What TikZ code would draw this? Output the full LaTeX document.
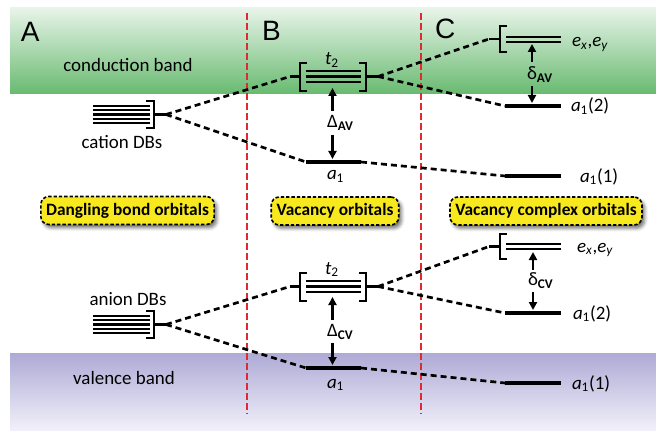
\documentclass[tikz,border=0pt]{standalone}
\usepackage{fontspec}
\setmainfont{Carlito}
\newfontfamily\letterfont{Liberation Sans}
\usetikzlibrary{arrows.meta,shadows.blur}

\definecolor{cbgreen}{RGB}{104,186,112}
\definecolor{cbgreentop}{RGB}{232,244,233}
\definecolor{vbpurple}{RGB}{174,170,214}
\definecolor{vbpurplebot}{RGB}{242,241,250}
\definecolor{divred}{RGB}{228,40,48}
\definecolor{tagyellow}{RGB}{248,232,30}

\newcommand\orb[2]{\textit{#1}\textsubscript{#2}}

\begin{document}
\begin{tikzpicture}[x=0.75pt,y=-0.75pt,
  every node/.style={inner sep=0pt, outer sep=0pt},
  txt/.style={font=\fontsize{14.2}{16}\selectfont},
  lab/.style={font=\fontsize{14.2}{16}\selectfont, anchor=base west},
  panel/.style={font=\letterfont\fontsize{21}{24}\selectfont, anchor=base west},
  dbline/.style={line width=1.8pt},
  tline/.style={line width=1.9pt},
  level/.style={line width=2.8pt},
  brk/.style={line width=1.8pt},
  conn/.style={line width=2pt, dash pattern=on 4.5pt off 3pt},
  divider/.style={divred, line width=1.3pt, dash pattern=on 5pt off 2.5pt},
  arr/.style={line width=1.7pt, -{Triangle[length=6pt,width=6pt]}},
  tag/.style={draw=black, fill=tagyellow, line width=1.2pt, dash pattern=on 2.5pt off 1.5pt,
    rounded corners=6pt, inner xsep=4pt, inner ysep=0pt, minimum height=28*0.75pt,
    font=\bfseries\fontsize{13}{15}\selectfont,
    blur shadow={shadow xshift=2pt, shadow yshift=-2.5pt, shadow blur radius=2.5pt, shadow opacity=55}}
]
\useasboundingbox (0,0) rectangle (656,431);

% energy bands
\shade[top color=cbgreentop, bottom color=cbgreen] (10,8) rectangle (656,94);
\shade[top color=vbpurple, bottom color=vbpurplebot] (10,353) rectangle (656,431);

% column dividers
\draw[divider] (247,13) -- (247,414);
\draw[divider] (421,13) -- (421,414);

% panel letters and band names
\node[panel] (pA) at (21,42) {A};
\node[panel] (pB) at (262,41) {B};
\node[panel] (pC) at (435,39) {C};
\node[txt, anchor=base] (cb) at (128,72) {conduction band};
\node[txt, anchor=base] (vb) at (124,384) {valence band};

% ---------- upper half: cation dangling bonds ----------
\foreach \k in {0,...,4} \draw[dbline] (93,{106+4.25*\k}) -- (150,{106+4.25*\k});
\draw[brk] (146,101) -- (154,101) -- (154,128) -- (146,128);
\draw[brk] (154,114.5) -- (166,114.5);
\coordinate (catR) at (166,114.5);
\node[txt, anchor=base] (catlab) at (122,149) {cation DBs};

% vacancy t2 (upper)
\foreach \yy in {71,76.5,82} \draw[tline] (306,\yy) -- (361,\yy);
\draw[brk] (307,63) -- (300,63) -- (300,91) -- (307,91);
\draw[brk] (300,76.5) -- (290,76.5);
\draw[brk] (359,63) -- (366,63) -- (366,91) -- (359,91);
\draw[brk] (366,76.5) -- (378,76.5);
\coordinate (tAL) at (290,76.5);
\coordinate (tAR) at (378,76.5);
\coordinate (tAbot) at (332.5,88);
\node[lab] (t2A) at (325,65) {\orb{t}{2}};

% vacancy a1 (upper)
\draw[level] (306,162) -- (361,162);
\coordinate (aAL) at (306,162);
\coordinate (aAR) at (361,162);
\coordinate (aAtop) at (332.5,159);
\node[lab] (a1A) at (327,180) {\orb{a}{1}};

% splitting Delta_AV
\node[txt] (DAV) at (332.5,123) {Δ\rlap{\textsubscript{\bfseries AV}}};
\coordinate (DAVu) at (332.5,111);
\coordinate (DAVd) at (332.5,135);
\draw[arr] (DAVu) -- (tAbot);
\draw[arr] (DAVd) -- (aAtop);

% vacancy complex (upper)
\draw[tline] (506,37) -- (561,37);
\draw[tline] (506,42) -- (561,42);
\draw[brk] (507,26) -- (500,26) -- (500,52) -- (507,52);
\draw[brk] (500,39) -- (489,39);
\coordinate (eAL) at (489,39);
\coordinate (eAbot) at (532,44);
\node[lab] (eA) at (572,47) {\orb{e}{\textit{x}},\orb{e}{\textit{y}}};

\draw[level] (505,106) -- (561,106);
\coordinate (c2AL) at (505,106);
\coordinate (c2Atop) at (532,103);
\node[lab] (c2A) at (571,112) {\orb{a}{1}(2)};

\draw[level] (505,176) -- (561,176);
\coordinate (c1AL) at (505,176);
\node[lab] (c1A) at (580,182) {\orb{a}{1}(1)};

\node[txt] (sAV) at (532,75) {δ\rlap{\textsubscript{\bfseries AV}}};
\coordinate (sAVu) at (532,62);
\coordinate (sAVd) at (532,86);
\draw[arr] (sAVu) -- (eAbot);
\draw[arr] (sAVd) -- (c2Atop);

% correlation lines (upper)
\draw[conn] (catR) -- (tAL);
\draw[conn] (catR) -- (aAL);
\draw[conn] (tAR) -- (eAL);
\draw[conn] (tAR) -- (c2AL);
\draw[conn] (aAR) -- (c1AL);

% ---------- column captions ----------
\node[tag] (capA) at (127.5,210.5) {Dangling bond orbitals};
\node[tag] (capB) at (335,211) {Vacancy orbitals};
\node[tag] (capC) at (546,211) {Vacancy complex orbitals};

% ---------- lower half: anion dangling bonds ----------
\foreach \k in {0,...,4} \draw[dbline] (93,{316+4.25*\k}) -- (150,{316+4.25*\k});
\draw[brk] (146,311) -- (154,311) -- (154,338) -- (146,338);
\draw[brk] (154,324.5) -- (166,324.5);
\coordinate (anR) at (166,324.5);
\node[txt, anchor=base] (anlab) at (128,305) {anion DBs};

% vacancy t2 (lower)
\foreach \yy in {281,286.5,292} \draw[tline] (306,\yy) -- (361,\yy);
\draw[brk] (307,273) -- (300,273) -- (300,301) -- (307,301);
\draw[brk] (300,286.5) -- (290,286.5);
\draw[brk] (359,273) -- (366,273) -- (366,301) -- (359,301);
\draw[brk] (366,286.5) -- (378,286.5);
\coordinate (tCL) at (290,286.5);
\coordinate (tCR) at (378,286.5);
\coordinate (tCbot) at (332.5,297);
\node[lab] (t2C) at (325,274) {\orb{t}{2}};

% vacancy a1 (lower)
\draw[level] (306,368) -- (361,368);
\coordinate (aCL) at (306,368);
\coordinate (aCR) at (361,368);
\coordinate (aCtop) at (332.5,365);
\node[lab] (a1C) at (327,388) {\orb{a}{1}};

% splitting Delta_CV
\node[txt] (DCV) at (332.5,332) {Δ\rlap{\textsubscript{\bfseries CV}}};
\coordinate (DCVu) at (332.5,320);
\coordinate (DCVd) at (332.5,343);
\draw[arr] (DCVu) -- (tCbot);
\draw[arr] (DCVd) -- (aCtop);

% vacancy complex (lower)
\draw[tline] (506,244) -- (561,244);
\draw[tline] (506,249) -- (561,249);
\draw[brk] (507,234) -- (500,234) -- (500,259) -- (507,259);
\draw[brk] (500,246.5) -- (489,246.5);
\coordinate (eCL) at (489,246.5);
\coordinate (eCbot) at (533,252);
\node[lab] (eC) at (577,252) {\orb{e}{\textit{x}},\orb{e}{\textit{y}}};

\draw[level] (505,313) -- (561,313);
\coordinate (c2CL) at (505,313);
\coordinate (c2Ctop) at (533,310);
\node[lab] (c2C) at (573,319) {\orb{a}{1}(2)};

\draw[level] (505,383) -- (561,383);
\coordinate (c1CL) at (505,383);
\node[lab] (c1C) at (572,389) {\orb{a}{1}(1)};

\node[txt] (sCV) at (533,281) {δ\rlap{\textsubscript{\bfseries CV}}};
\coordinate (sCVu) at (533,270);
\coordinate (sCVd) at (533,292);
\draw[arr] (sCVu) -- (eCbot);
\draw[arr] (sCVd) -- (c2Ctop);

% correlation lines (lower)
\draw[conn] (anR) -- (tCL);
\draw[conn] (anR) -- (aCL);
\draw[conn] (tCR) -- (eCL);
\draw[conn] (tCR) -- (c2CL);
\draw[conn] (aCR) -- (c1CL);
\end{tikzpicture}
\end{document}
